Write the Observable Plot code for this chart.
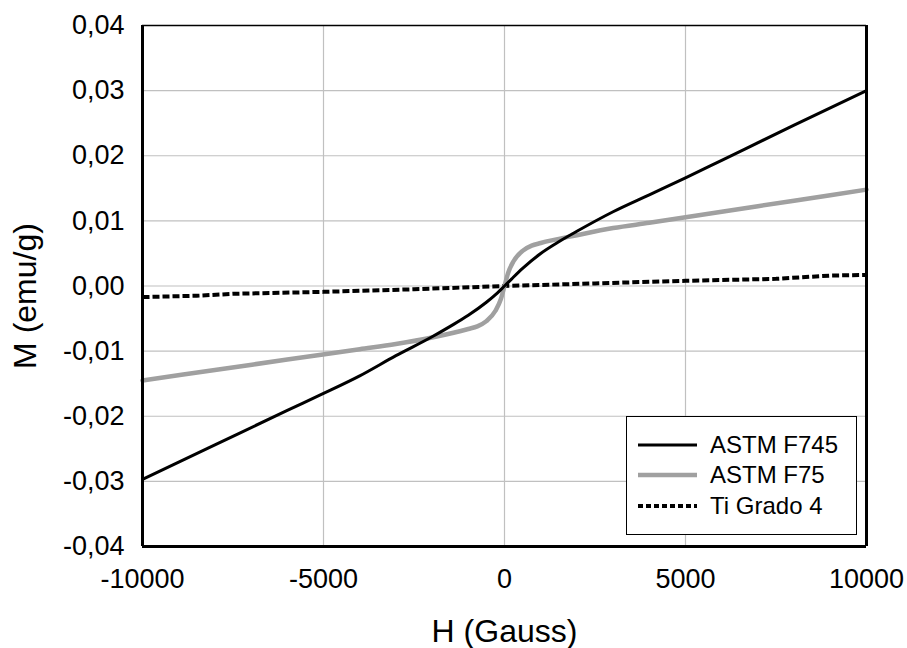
<!DOCTYPE html>
<html>
<head>
<meta charset="utf-8">
<script src="https://cdn.jsdelivr.net/npm/d3@7"></script>
<script src="https://cdn.jsdelivr.net/npm/@observablehq/plot@0.6"></script>
<style>
  html, body { margin: 0; padding: 0; background: white; }
  #wrap { position: relative; width: 907px; height: 648px; font-family: "Liberation Sans", Arial, sans-serif; }
  #legend { position: absolute; left: 626px; top: 416px; width: 229px; height: 117px; border: 1.5px solid #000; background: white; }
  .row { position: absolute; left: 0; height: 30px; display: flex; align-items: center; }
  .row svg { margin-left: 11px; }
  .row span { margin-left: 13px; font-size: 24px; color: #000; }
</style>
</head>
<body>
<div id="wrap"></div>
<script>
// Series names
const seriesNames = ["ASTM F745", "ASTM F75", "Ti Grado 4"];

// ASTM F745 (black)
const hF745 = [-10000, -8000, -6000, -5000, -4000, -3000, -2000, -1500, -1000, -500, -200, 0, 200, 500, 1000, 1500, 2000, 3000, 4000, 5000, 6000, 8000, 10000];
const mF745 = [-0.0297, -0.0244, -0.0191, -0.0165, -0.0138, -0.0107, -0.0078, -0.0062, -0.0045, -0.0025, -0.0011, 0.0000, 0.0011, 0.0027, 0.0050, 0.0068, 0.0084, 0.0114, 0.0140, 0.0166, 0.0193, 0.0247, 0.0300];

// ASTM F75 (grey)
const hF75 = [-10000, -8000, -6000, -4000, -3000, -2000, -1000, -750, -500, -250, -100, 0, 100, 250, 500, 750, 1000, 2000, 3000, 4000, 6000, 8000, 10000];
const mF75 = [-0.0145, -0.0129, -0.0113, -0.0097, -0.0089, -0.0079, -0.0066, -0.0062, -0.0054, -0.0038, -0.0020, 0.0000, 0.0020, 0.0038, 0.0054, 0.0062, 0.0066, 0.0078, 0.0089, 0.0097, 0.0114, 0.0131, 0.0148];

// Ti Grado 4 (dotted)
const hTi = [-10000, -8500, -7500, -5000, -2500, 0, 2500, 5000, 7500, 9000, 10000];
const mTi = [-0.0017, -0.0015, -0.0012, -0.0009, -0.0005, 0.0000, 0.0004, 0.0008, 0.0011, 0.0016, 0.0017];

// Axis ticks
const xTicks = [-10000, -5000, 0, 5000, 10000];
const yTicks = [-0.04, -0.03, -0.02, -0.01, 0, 0.01, 0.02, 0.03, 0.04];
const xTitle = "H (Gauss)";
const yTitle = "M (emu/g)";

const toRows = (hs, ms) => hs.map((h, i) => ({H: h, M: ms[i]}));
const dF745 = toRows(hF745, mF745);
const dF75 = toRows(hF75, mF75);
const dTi = toRows(hTi, mTi);

const fmtY = d => (Math.abs(d) < 1e-12 ? "0,00" : d.toFixed(2).replace(".", ","));

const chart = Plot.plot({
  width: 907,
  height: 648,
  marginLeft: 142,
  marginRight: 41,
  marginTop: 25,
  marginBottom: 102,
  style: { fontFamily: "Liberation Sans, Arial, sans-serif", background: "white", color: "#000" },
  x: { domain: [-10000, 10000] },
  y: { domain: [-0.04, 0.04] },
  marks: [
    Plot.gridX(xTicks, { stroke: "#c0c0c0", strokeOpacity: 1, strokeWidth: 1.2 }),
    Plot.gridY(yTicks, { stroke: "#c0c0c0", strokeOpacity: 1, strokeWidth: 1.2 }),
    Plot.axisX(xTicks, { tickSize: 0, tickPadding: 22, tickFormat: d => String(d), fontSize: 27, label: null }),
    Plot.axisY(yTicks, { tickSize: 0, tickPadding: 18, tickFormat: fmtY, fontSize: 27, label: null }),
    Plot.line(dTi, { x: "H", y: "M", stroke: "#000", strokeWidth: 4, strokeDasharray: "7,3", strokeLinecap: "butt", curve: "linear" }),
    Plot.line(dF75, { x: "H", y: "M", stroke: "#a0a0a0", strokeWidth: 4.5, curve: "monotone-x" }),
    Plot.line(dF745, { x: "H", y: "M", stroke: "#000", strokeWidth: 3, curve: "monotone-x" }),
    Plot.ruleX([-10000], { stroke: "#000", strokeWidth: 3 }),
    Plot.ruleX([10000], { stroke: "#000", strokeWidth: 3 }),
    Plot.ruleY([-0.04], { stroke: "#000", strokeWidth: 3 }),
    Plot.ruleY([0.04], { stroke: "#000", strokeWidth: 1.5 }),
    Plot.text([xTitle], { text: d => d, frameAnchor: "bottom", lineAnchor: "middle", dy: 85, fontSize: 32, fill: "#000" }),
    Plot.text([yTitle], { text: d => d, frameAnchor: "left", textAnchor: "middle", lineAnchor: "middle", dx: -117, dy: 10, rotate: -90, fontSize: 32, fill: "#000" })
  ]
});

const wrap = document.getElementById("wrap");
wrap.appendChild(chart);

// Legend
const legend = document.createElement("div");
legend.id = "legend";
const swatches = [
  { stroke: "#000", width: 3, dash: null },
  { stroke: "#a0a0a0", width: 4.5, dash: null },
  { stroke: "#000", width: 4, dash: "5,3" }
];
const rowTops = [13, 43, 74];
seriesNames.forEach((name, i) => {
  const row = document.createElement("div");
  row.className = "row";
  row.style.top = rowTops[i] + "px";
  const s = swatches[i];
  row.innerHTML = `<svg width="59" height="10"><line x1="0" y1="5" x2="59" y2="5" stroke="${s.stroke}" stroke-width="${s.width}" ${s.dash ? `stroke-dasharray="${s.dash}"` : ""}/></svg><span>${name}</span>`;
  legend.appendChild(row);
});
wrap.appendChild(legend);
</script>
</body>
</html>
